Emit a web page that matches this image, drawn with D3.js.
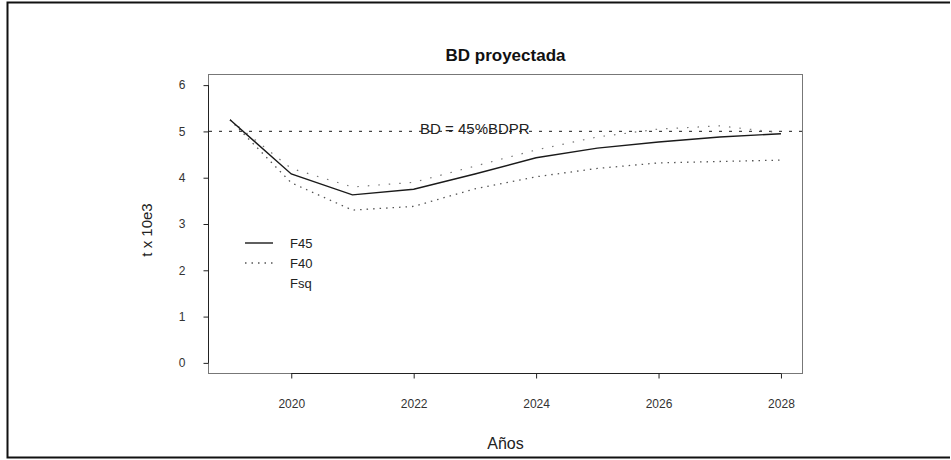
<!DOCTYPE html>
<html>
<head>
<meta charset="utf-8">
<script src="https://cdn.jsdelivr.net/npm/d3@7"></script>
<style>
  html, body { margin: 0; padding: 0; background: #fff; }
  svg { display: block; font-family: "Liberation Sans", Arial, sans-serif; }
</style>
</head>
<body>
<svg id="chart" width="951" height="460"></svg>
<script>
// ---- data ----
const years = [2019, 2020, 2021, 2022, 2023, 2024, 2025, 2026, 2027, 2028];
const F45 = [5.25, 4.08, 3.63, 3.75, 4.08, 4.43, 4.64, 4.77, 4.88, 4.95];
const F40 = [5.25, 3.89, 3.30, 3.38, 3.76, 4.02, 4.20, 4.32, 4.35, 4.38];
const Fsq = [5.25, 4.20, 3.80, 3.90, 4.25, 4.60, 4.88, 5.05, 5.12, 4.97];
const seriesNames = ["F45", "F40", "Fsq"];
const xTicks = [2020, 2022, 2024, 2026, 2028];
const yTicks = [0, 1, 2, 3, 4, 5, 6];
const refValue = 5;
const refLabel = "BD = 45%BDPR";
const titleText = "BD proyectada";
const xLabel = "Años";
const yLabel = "t x 10e3";

(function () {
const svg = d3.select("#chart");

// outer frame (left, top, bottom)
svg.append("path")
  .attr("d", "M950,2.5 H7.5 V457.5 H950")
  .attr("fill", "none").attr("stroke", "#111").attr("stroke-width", 2);

const pL = 208, pR = 803, pT = 74, pB = 374;
const x = d3.scaleLinear().domain([2018.64, 2028.36]).range([pL, pR]);
const y = d3.scaleLinear().domain([-0.24, 6.24]).range([pB, pT]);

// plot box
svg.append("rect")
  .attr("x", pL + 0.5).attr("y", pT + 0.5)
  .attr("width", pR - pL - 1).attr("height", pB - pT - 1)
  .attr("fill", "none").attr("stroke", "#777").attr("stroke-width", 1);

// axes
const xAxis = d3.axisBottom(x).tickValues(xTicks).tickFormat(d3.format("d"))
  .tickSize(5).tickPadding(21);
const gx = svg.append("g").attr("transform", `translate(0,${pB - 0.5})`).call(xAxis);
gx.select(".domain").attr("d", `M${x(xTicks[0])},0H${x(xTicks[xTicks.length - 1])}`)
  .attr("stroke", "#222");
gx.selectAll(".tick line").attr("stroke", "#222");
gx.selectAll(".tick text").attr("font-size", 12).attr("fill", "#333")
  .attr("font-family", "'Liberation Sans', Arial, sans-serif");

const yAxis = d3.axisLeft(y).tickValues(yTicks).tickFormat(d3.format("d"))
  .tickSize(5).tickPadding(18);
const gy = svg.append("g").attr("transform", `translate(${pL + 0.5},0)`).call(yAxis);
gy.select(".domain").attr("d", `M0,${y(yTicks[0])}V${y(yTicks[yTicks.length - 1])}`)
  .attr("stroke", "#222");
gy.selectAll(".tick line").attr("stroke", "#222");
gy.selectAll(".tick text").attr("font-size", 12).attr("fill", "#333")
  .attr("font-family", "'Liberation Sans', Arial, sans-serif");

// reference line
svg.append("line")
  .attr("x1", pL + 1).attr("x2", pR - 1)
  .attr("y1", y(refValue)).attr("y2", y(refValue))
  .attr("stroke", "#444").attr("stroke-width", 1.2)
  .attr("stroke-dasharray", "3,7");
svg.append("text")
  .attr("x", x(2023)).attr("y", y(refValue) + 3)
  .attr("text-anchor", "middle").attr("font-size", 15).attr("fill", "#222")
  .text(refLabel);

// series
const line = d3.line().x((d, i) => x(years[i])).y(d => y(d));
const styles = {
  F45: { stroke: "#1a1a1a", width: 1.4, dash: null },
  F40: { stroke: "#555", width: 1.3, dash: "1.5,5" },
  Fsq: { stroke: "#777", width: 1.2, dash: "1.5,9" }
};
const data = { F45, F40, Fsq };
seriesNames.slice().reverse().forEach(name => {
  const s = styles[name];
  const p = svg.append("path").datum(data[name])
    .attr("d", line).attr("fill", "none")
    .attr("stroke", s.stroke).attr("stroke-width", s.width);
  if (s.dash) p.attr("stroke-dasharray", s.dash);
});

// legend
const legX1 = 245, legX2 = 273, legText = 290, legY0 = 243, legDy = 20;
seriesNames.forEach((name, i) => {
  const s = styles[name];
  const yy = legY0 + i * legDy;
  if (name !== "Fsq") {
    const l = svg.append("line").attr("x1", legX1).attr("x2", legX2)
      .attr("y1", yy).attr("y2", yy)
      .attr("stroke", s.stroke).attr("stroke-width", s.width);
    if (s.dash) l.attr("stroke-dasharray", s.dash);
  }
  svg.append("text").attr("x", legText).attr("y", yy + 5)
    .attr("font-size", 13).attr("fill", "#222").text(name);
});

// title
svg.append("text").attr("x", (pL + pR) / 2).attr("y", 61)
  .attr("text-anchor", "middle").attr("font-size", 17).attr("font-weight", "bold")
  .attr("fill", "#111").text(titleText);

// axis titles
svg.append("text").attr("x", (pL + pR) / 2).attr("y", 449)
  .attr("text-anchor", "middle").attr("font-size", 16).attr("fill", "#222")
  .text(xLabel);
svg.append("text")
  .attr("transform", `translate(152,${(pT + pB) / 2 + 6}) rotate(-90)`)
  .attr("text-anchor", "middle").attr("font-size", 15).attr("fill", "#222")
  .text(yLabel);
})();
</script>
</body>
</html>
